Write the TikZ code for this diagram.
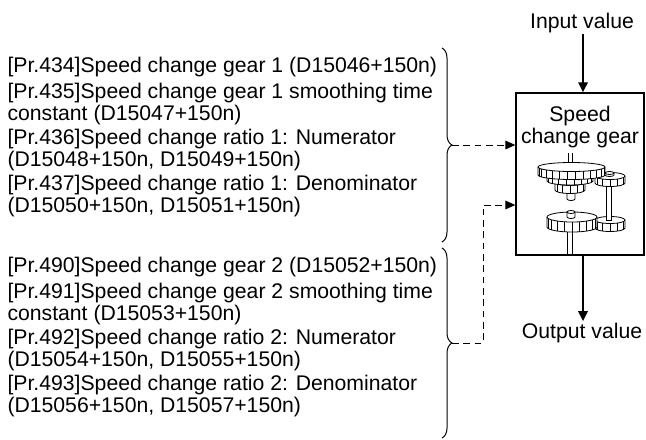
\documentclass[tikz,border=0pt]{standalone}
\usepackage{fontspec}
\setmainfont{Liberation Sans}
\usetikzlibrary{arrows.meta,decorations.pathreplacing}

% gear body: centre x, top y, x radius, y radius, height
\newcommand{\gearhub}[5]{%
  \draw [gearline, fill=white] ({#1-#3},#2) -- ({#1-#3},{#2+#5}) arc [start angle=180, end angle=0, x radius=#3, y radius=#4] -- ({#1+#3},#2) arc [start angle=0, end angle=-180, x radius=#3, y radius=#4] -- cycle;
  \draw [gearline] ({#1-#3},#2) arc [start angle=180, end angle=0, x radius=#3, y radius=#4];
}
% toothed wheel: same, plus number of teeth lines
\newcommand{\gearwheel}[6]{%
  \gearhub{#1}{#2}{#3}{#4}{#5}
  \foreach \k in {1,...,#6}
    \draw [gearline] ({#1+#3*cos(180*\k/(#6+1))},{#2+#4*sin(180*\k/(#6+1))}) -- ++(0,#5);
}

\tikzset{
  every picture/.style={line width=0.75pt},
  partext/.style={anchor=base west, inner sep=0.75pt, align=left, font=\fontsize{15.9pt}{16.5pt}\selectfont},
  valtext/.style={inner sep=0.75pt, font=\fontsize{15.9pt}{16.2pt}\selectfont},
  gearline/.style={line width=0.6pt},
  flow/.style={line width=1.5pt, -{Triangle[length=7.5pt, width=7pt]}},
  setline/.style={line width=0.75pt, dash pattern={on 5pt off 3.5pt}, -{Triangle[length=7.5pt, width=6.5pt]}},
  paren/.style={line width=0.75pt, decorate, decoration={brace, amplitude=7.5pt}}
}

\begin{document}
\begin{tikzpicture}[x=0.75pt,y=0.75pt,yscale=-1,xscale=1]
\useasboundingbox (0,0) rectangle (646,439);

% Speed change gear block
\node (gearbox) [draw, line width=1pt, minimum width=96pt, minimum height=121.5pt, inner sep=0pt] at (580,174) {};
% (base of a two line node is its last line)
\node (gearname) [valtext, anchor=base, align=center] at (580,143) {Speed\\change gear};

% Text Node
\node (inval) [valtext, anchor=base] at (582,28) {Input value};
\node (outval) [valtext, anchor=base] at (582,338) {Output value};

\draw [flow] (inval.south -| 583,0) -- (583,0 |- gearbox.north);
\draw [flow] (583,0 |- gearbox.south) -- (583,0 |- outval.north);

%Gear train drawing
\draw [gearline] (568.3,153) -- (568.3,166) (572.7,153) -- (572.7,166);
\draw [gearline] (567.5,230) -- (567.5,255) (572.5,230) -- (572.5,255);
\gearwheel{610}{220}{15}{3.5}{8}{5}
\draw [gearline, fill=white] (606,186) rectangle (611.7,220);
\gearwheel{610}{176}{15}{3.5}{7}{5}
\gearwheel{572}{217}{25}{5}{10}{9}
\gearhub{571}{212}{4}{1.5}{5}
\gearhub{571}{191}{4}{1.5}{8}
\gearwheel{570}{182}{15}{3.5}{8}{5}
\gearwheel{570}{175}{23}{4}{6}{8}
\gearwheel{571.5}{167}{33.5}{4.5}{8}{12}
\gearhub{609.5}{173}{4.5}{1.5}{2}

% Parameters of gear 1
\node (pr434) [partext] at (6,72) {[Pr.434]Speed change gear 1 (D15046+150n)};
\node (pr435) [partext] at (6,120) {[Pr.435]Speed change gear 1 smoothing time\\constant (D15047+150n)};
\node (pr436) [partext] at (6,166) {[Pr.436]Speed change ratio 1: Numerator\\(D15048+150n, D15049+150n)};
\node (pr437) [partext] at (6,212) {[Pr.437]Speed change ratio 1: Denominator\\(D15050+150n, D15051+150n)};

% Parameters of gear 2
\node (pr490) [partext] at (6,272) {[Pr.490]Speed change gear 2 (D15052+150n)};
\node (pr491) [partext] at (6,320) {[Pr.491]Speed change gear 2 smoothing time\\constant (D15053+150n)};
\node (pr492) [partext] at (6,366) {[Pr.492]Speed change ratio 2: Numerator\\(D15054+150n, D15055+150n)};
\node (pr493) [partext] at (6,412) {[Pr.493]Speed change ratio 2: Denominator\\(D15056+150n, D15057+150n)};

% Braces and setting lines
\coordinate (brA1) at (442,48);
\coordinate (brA2) at (442,242);
\coordinate (brB1) at (442,248);
\coordinate (brB2) at (442,438);
\coordinate (tipA) at (452,145);
\coordinate (tipB) at (452,343);
\coordinate (bendB) at (483,205);

\draw [paren] (brA1) -- (brA2);
\draw [paren] (brB1) -- (brB2);

\draw [setline] (tipA) -- (tipA -| gearbox.west);
\draw [setline] (tipB) -| (bendB) -- (bendB -| gearbox.west);

\end{tikzpicture}
\end{document}
